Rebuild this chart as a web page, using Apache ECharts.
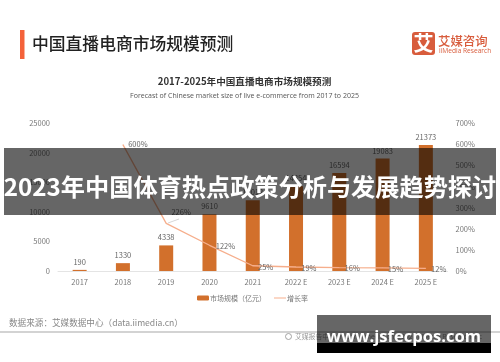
<!DOCTYPE html>
<html><head><meta charset="utf-8">
<style>html,body{margin:0;padding:0;background:#fff}#base,#over{position:absolute;left:0;top:0;width:500px;height:362px}#base{filter:blur(0.45px)}</style>
<script src="https://cdn.jsdelivr.net/npm/echarts@6/dist/echarts.min.js"></script>
</head><body><div id="base"></div><div id="over"></div>
<script>
const categories = ['2017','2018','2019','2020','2021','2022 E','2023 E','2024 E','2025 E'];
const marketSize = [190,1330,4338,9610,12012,14354,16594,19083,21373];
const growthRate = [null,600,226,122,25,19,16,15,12];
const leftTicks = {min:0,max:25000,interval:5000};
const rightTicks = {min:0,max:700,interval:100};
const FONT = '"Noto Sans CJK SC","Noto Sans",sans-serif';
const growthLabelOffset = [[0,0],[3,0],[3,-11],[4,1],[3,1],[3,1],[3,1],[3,1],[3,1]];

const chart = echarts.init(document.getElementById('base'),null,{renderer:'canvas'});
chart.setOption({
  animation:false,
  backgroundColor:'#fff',
  textStyle:{fontFamily:FONT},
  grid:{left:58,right:52.5,top:123.5,bottom:91},
  legend:{
    top:289.5,left:192,itemGap:8,itemWidth:12,itemHeight:5,
    textStyle:{fontSize:7,color:'#777',fontFamily:FONT,padding:[0,0,0,-4]},
    data:[{name:'市场规模（亿元）'},{name:'增长率',icon:'path://M0 0H12V1H0Z'}]
  },
  xAxis:{type:'category',data:categories,
    axisLine:{lineStyle:{color:'#e4e4e4',width:1}},axisTick:{show:false},
    axisLabel:{fontSize:7.5,color:'#777',margin:7,fontFamily:FONT}},
  yAxis:[
    {type:'value',...leftTicks,splitLine:{show:false},axisLine:{show:false},axisTick:{show:false},
      axisLabel:{fontSize:7.5,color:'#777',margin:8,fontFamily:FONT,formatter:v=>String(v)}},
    {type:'value',...rightTicks,splitLine:{show:false},axisLine:{show:false},axisTick:{show:false},
      axisLabel:{fontSize:7.5,color:'#777',margin:8,formatter:'{value}%',fontFamily:FONT}}
  ],
  series:[
    {name:'市场规模（亿元）',type:'bar',yAxisIndex:0,data:marketSize,barWidth:14,
      itemStyle:{color:'#d2702c'},
      label:{show:true,position:'top',distance:4,fontSize:7.5,color:'#666',fontFamily:FONT,formatter:p=>String(p.value)}},
    {name:'增长率',type:'line',yAxisIndex:1,
      data:growthRate,
      showSymbol:true,showAllSymbol:true,symbol:'circle',symbolSize:0.5,smooth:false,z:5,
      lineStyle:{color:'#f6ae8c',width:1.3},itemStyle:{color:'#f6ae8c'},
      labelLayout:p=>({dx:growthLabelOffset[p.dataIndex][0],dy:growthLabelOffset[p.dataIndex][1]}),
      label:{show:true,position:'right',distance:2,fontSize:7.5,color:'#666',formatter:p=>p.value+'%',fontFamily:FONT}}
  ],
  graphic:[
    {type:'rect',shape:{x:20,y:30,width:4.5,height:29},style:{fill:'#f4623a'}},
    {type:'text',style:{x:32,y:44,text:'中国直播电商市场规模预测',font:'500 16.8px '+FONT,fill:'#222',textVerticalAlign:'middle'}},
    {type:'text',style:{x:244.5,y:81.5,text:'2017-2025年中国直播电商市场规模预测',font:'700 9.6px '+FONT,fill:'#333',textAlign:'center',textVerticalAlign:'middle'}},
    {type:'text',style:{x:244.5,y:96,text:'Forecast of Chinese market size of live e-commerce from 2017 to 2025',font:'7px "Open Sans",'+FONT,fill:'#555',textAlign:'center',textVerticalAlign:'middle'}},
    {type:'rect',shape:{x:412,y:32,width:23,height:23,r:3},style:{fill:'#d85c3c'}},
    {type:'text',style:{x:423.5,y:43.5,text:'艾',font:'700 20px '+FONT,fill:'#fff',textAlign:'center',textVerticalAlign:'middle'}},
    {type:'text',style:{x:438,y:41,text:'艾媒咨询',font:'500 12.4px '+FONT,fill:'#d85c3c',textVerticalAlign:'middle'}},
    {type:'text',style:{x:439,y:51,text:'iiMedia Research',font:'6.6px "Open Sans",'+FONT,fill:'#d85c3c',textVerticalAlign:'middle'}},
    {type:'line',shape:{x1:168,y1:223,x2:179,y2:219},style:{stroke:'#ccc',lineWidth:0.8}},
    {type:'text',style:{x:9,y:323,text:'数据来源：艾媒数据中心（data.iimedia.cn）',font:'8.6px '+FONT,fill:'#888',textVerticalAlign:'middle'}},
    {type:'line',shape:{x1:0,y1:332,x2:500,y2:332},style:{stroke:'#c4c4c4',lineWidth:1.5}},
    {type:'circle',shape:{cx:288.5,cy:336.5,r:3},style:{fill:'none',stroke:'#999',lineWidth:0.9}},
    {type:'text',style:{x:295,y:336.5,text:'艾媒报告中心: report.iimedia.cn ©2020 iiMedia Research Inc',font:'6.8px '+FONT,fill:'#999',textVerticalAlign:'middle'}}
  ]
});

const over = echarts.init(document.getElementById('over'),null,{renderer:'canvas'});
over.setOption({
  animation:false,
  backgroundColor:'transparent',
  graphic:[
    {type:'rect',shape:{x:4,y:148,width:492,height:67},style:{fill:'rgba(0,0,0,0.6)'}},
    {type:'text',style:{x:250,y:186.5,text:'2023年中国体育热点政策分析与发展趋势探讨',font:'700 24.2px '+FONT,fill:'#fff',textAlign:'center',textVerticalAlign:'middle'}},
    {type:'rect',shape:{x:317,y:315,width:174,height:28},style:{fill:'rgba(0,0,0,0.6)'}},
    {type:'rect',shape:{x:317,y:343,width:174,height:10},style:{fill:'#000'}},
    {type:'text',style:{x:404,y:337,text:'www.jsfecpos.com',font:'700 16.6px "Open Sans",'+FONT,fill:'#fff',textAlign:'center',textVerticalAlign:'middle'}}
  ]
});
</script></body></html>
